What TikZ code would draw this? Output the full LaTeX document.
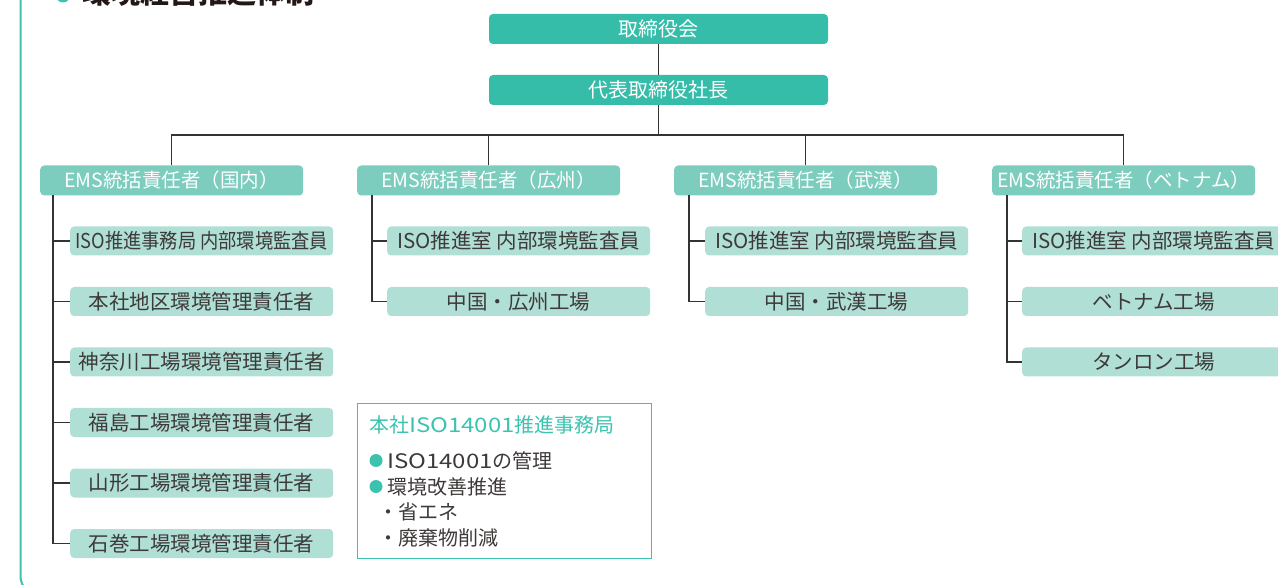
\documentclass[tikz,border=0pt]{standalone}
\usepackage{graphicx}
\usepackage{fontspec}
\setmainfont{Noto Sans CJK JP}
\definecolor{tealA}{HTML}{35BDAA}
\definecolor{tealB}{HTML}{7DCDBF}
\definecolor{tealC}{HTML}{B0DFD6}
\definecolor{frameC}{HTML}{3CC3B0}
\definecolor{txtD}{HTML}{3E3A39}
\definecolor{lineC}{HTML}{333333}
\definecolor{titleC}{HTML}{231815}
\newcommand{\wideiso}{\scalebox{1.2}[1]{ISO14001}}
\tikzset{
  topbox/.style={fill=tealA, rounded corners=4pt, minimum width=339pt, minimum height=30pt, inner sep=0pt, text=white, font=\fontsize{20}{24}\selectfont, text height=16.6pt, text depth=1.4pt},
  emsbox/.style={fill=tealB, rounded corners=4pt, minimum width=263pt, minimum height=30pt, inner sep=0pt, text=white, font=\fontsize{19.5}{24}\selectfont, text height=16.2pt, text depth=1.4pt, anchor=west},
  subbox/.style={fill=tealC, rounded corners=4pt, minimum width=263pt, minimum height=29pt, inner sep=0pt, text=txtD, font=\fontsize{20.5}{24}\selectfont, text height=17pt, text depth=1.4pt, anchor=west},
  conn/.style={draw=lineC, line width=1.3pt},
  infotext/.style={anchor=west, inner sep=0pt, text=txtD, font=\fontsize{20}{24}\selectfont},
  bul/.style={circle, fill=frameC, minimum size=13pt, inner sep=0pt},
}
\begin{document}
\begin{tikzpicture}[x=1pt,y=-1pt]
\useasboundingbox (0,0) rectangle (1278,585);
\clip (0,0) rectangle (1278,585);
% frame and title
\draw[frameC, line width=2pt, rounded corners=20pt] (20.5,-40) -- (20.5,596) -- (1320,596);
\node[circle, fill=frameC, minimum size=14pt, inner sep=0pt] (tdot) at (63,-4.5) {};
\node[anchor=base west, inner sep=0pt, text=titleC, font=\fontsize{29}{30}\selectfont\bfseries] (title) at (82,3.5) {環境経営推進体制};
% top
\node[topbox] (board) at (658.5,29) {取締役会};
\node[topbox] (ceo) at (658.5,90) {代表取締役社長};
\coordinate (hb) at (658.5,135);
\draw[conn] (board.south) -- (ceo.north);
\draw[conn] (ceo.south) -- (hb);
% level 2
\node[emsbox] (ja) at (40,180.5) {EMS統括責任者（国内）};
\node[emsbox] (gz) at (357,180.5) {EMS統括責任者（広州）};
\node[emsbox] (wh) at (674,180.5) {EMS統括責任者（武漢）};
\node[emsbox] (vn) at (992,180.5) {EMS統括責任者（ベトナム）};
\draw[conn] (ja.north) |- (hb);
\draw[conn] (gz.north) |- (hb);
\draw[conn] (wh.north) |- (hb);
\draw[conn] (vn.north) |- (hb);
% domestic
\node[subbox] (a1) at (70,241) {\scalebox{0.89}[1]{ISO推進事務局 内部環境監査員}};
\node[subbox] (a2) at (70,301.5) {本社地区環境管理責任者};
\node[subbox] (a3) at (70,362) {神奈川工場環境管理責任者};
\node[subbox] (a4) at (70,422.5) {福島工場環境管理責任者};
\node[subbox] (a5) at (70,483) {山形工場環境管理責任者};
\node[subbox] (a6) at (70,543.5) {石巻工場環境管理責任者};
\coordinate (ta) at (53,195.5);
\draw[conn] (ta) |- (a6.west);
\foreach \n in {a1,a2,a3,a4,a5} \draw[conn] (ta |- \n.west) -- (\n.west);
% guangzhou
\node[subbox] (b1) at (387,241) {ISO推進室 内部環境監査員};
\node[subbox] (b2) at (387,301.5) {中国・広州工場};
\coordinate (tb) at (372,195.5);
\draw[conn] (tb) |- (b2.west);
\draw[conn] (tb |- b1.west) -- (b1.west);
% wuhan
\node[subbox] (c1) at (705,241) {ISO推進室 内部環境監査員};
\node[subbox] (c2) at (705,301.5) {中国・武漢工場};
\coordinate (tc) at (689,195.5);
\draw[conn] (tc) |- (c2.west);
\draw[conn] (tc |- c1.west) -- (c1.west);
% vietnam
\node[subbox] (d1) at (1022,241) {ISO推進室 内部環境監査員};
\node[subbox] (d2) at (1022,301.5) {ベトナム工場};
\node[subbox] (d3) at (1022,362) {タンロン工場};
\coordinate (td) at (1007,195.5);
\draw[conn] (td) |- (d3.west);
\foreach \n in {d1,d2} \draw[conn] (td |- \n.west) -- (\n.west);
% info box
\node[draw=frameC, line width=1pt, minimum width=294pt, minimum height=155pt, anchor=north west, inner sep=0pt] (info) at (357,403) {};
\node[infotext, text=frameC] (infot) at (369,425) {本社\wideiso 推進事務局};
\node[bul] (bu1) at (376,460.5) {};
\node[infotext] (i1) at (387,460.5) {\wideiso の管理};
\node[bul] (bu2) at (376,486.5) {};
\node[infotext] (i2) at (387,486.5) {環境改善推進};
\node[infotext] (i3) at (378,512) {・省エネ};
\node[infotext] (i4) at (378,538) {・廃棄物削減};
\end{tikzpicture}
\end{document}
